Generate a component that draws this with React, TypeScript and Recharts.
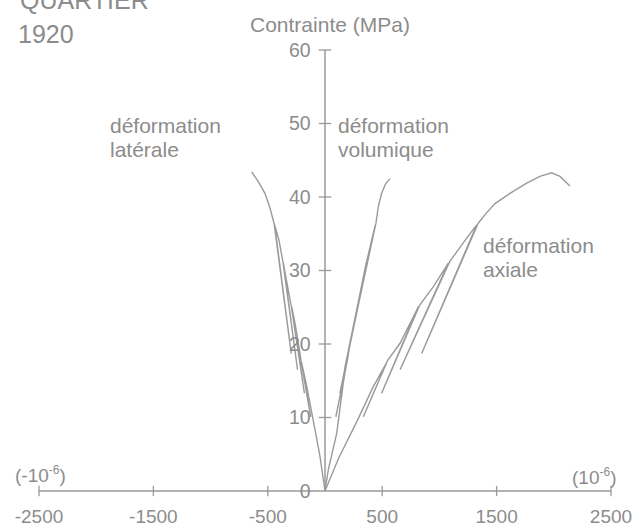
import React from 'react';
import { LineChart, Line, XAxis, YAxis, ReferenceLine } from 'recharts';

// strain in 1e-6, stress in MPa in drawing order (loops included)
const axialStrain = [0, 120, 277, 422, 540, 335, 545, 656, 801, 816, 495, 828, 947, 1078, 656, 1090, 1224, 1326, 845, 1338, 1399, 1486, 1617, 1763, 1879, 1981, 2054, 2141];
const axialStress = [0, 4.5, 9.4, 14.2, 17.5, 10.1, 17.7, 20.1, 24.6, 25.1, 13.3, 25.3, 27.8, 31.0, 16.5, 31.2, 34.1, 36.2, 18.7, 36.4, 37.6, 39.1, 40.5, 41.9, 42.8, 43.3, 42.8, 41.5];

const lateralStrain = [0, -44, -87, -131, -166, -205, -125, -210, -218, -262, -290, -180, -295, -321, -364, -240, -368, -402, -440, -295, -445, -481, -525, -583, -641];
const lateralStress = [0, 4.7, 8.3, 11.9, 14.7, 17.5, 10.1, 17.7, 18.7, 22.8, 25.0, 13.3, 25.2, 27.3, 31.0, 16.5, 31.2, 34.1, 36.2, 18.7, 36.4, 38.5, 40.5, 42.1, 43.4];

const volumeStrain = [0, 29, 102, 160, 190, 95, 195, 210, 277, 285, 130, 290, 335, 360, 170, 364, 415, 440, 200, 445, 466, 495, 530, 568];
const volumeStress = [0, 2.9, 7.8, 14.7, 17.5, 10.1, 17.7, 19.2, 24.4, 25.0, 13.3, 25.2, 28.5, 31.0, 16.5, 31.2, 34.6, 36.2, 18.7, 36.4, 38.7, 40.5, 41.8, 42.5];

const xTicks = [-2500, -1500, -500, 500, 1500, 2500];
const yTicks = [0, 10, 20, 30, 40, 50, 60];

const toPoints = (xs: number[], ys: number[]) => xs.map((x, i) => ({ x, y: ys[i] }));

const INK = '#8c8c8c';
const LINE = '#9a9a9a';
const FONT = '"Liberation Sans", Arial, sans-serif';

export default function App() {
    const axial = toPoints(axialStrain, axialStress);
    const lateral = toPoints(lateralStrain, lateralStress);
    const volume = toPoints(volumeStrain, volumeStress);

    return (
        <div style={{ position: 'absolute', left: 0, top: 0, width: 636, height: 530, background: '#fff', fontFamily: FONT }}>
            <LineChart width={636} height={530} margin={{ top: 50, right: 25, bottom: 9, left: 39 }}>
                <XAxis
                    type="number"
                    dataKey="x"
                    domain={[-2500, 2500]}
                    ticks={xTicks}
                    interval={0}
                    allowDataOverflow
                    height={30}
                    tickLine={false}
                    tickSize={0}
                    tickMargin={19}
                    axisLine={{ stroke: LINE, strokeWidth: 1.5 }}
                    tick={{ fill: INK, fontSize: 19, fontFamily: FONT }}
                />
                <YAxis type="number" dataKey="y" domain={[0, 60]} hide />

                {/* vertical stress axis sits at zero strain */}
                <ReferenceLine segment={[{ x: 0, y: 0 }, { x: 0, y: 60 }]} stroke={LINE} strokeWidth={1.5} ifOverflow="visible" />
                {yTicks.map((v) => (
                    <ReferenceLine
                        key={'y' + v}
                        segment={[{ x: -55, y: v }, { x: 55, y: v }]}
                        stroke={v === 0 ? 'none' : LINE}
                        strokeWidth={1.3}
                        ifOverflow="visible"
                        label={{ value: String(v), position: 'left', offset: 8, fill: INK, fontSize: 19.5, fontFamily: FONT }}
                    />
                ))}
                {xTicks.map((v) => (
                    <ReferenceLine
                        key={'x' + v}
                        segment={[{ x: v, y: -0.7 }, { x: v, y: 0.7 }]}
                        stroke={LINE}
                        strokeWidth={1.3}
                        ifOverflow="visible"
                    />
                ))}

                <Line data={lateral} dataKey="y" type="linear" dot={false} stroke={LINE} strokeWidth={1.4} isAnimationActive={false} />
                <Line data={volume} dataKey="y" type="linear" dot={false} stroke={LINE} strokeWidth={1.4} isAnimationActive={false} />
                <Line data={axial} dataKey="y" type="linear" dot={false} stroke={LINE} strokeWidth={1.4} isAnimationActive={false} />
            </LineChart>

            <svg width={636} height={530} style={{ position: 'absolute', left: 0, top: 0, pointerEvents: 'none' }}>
                <g fill={INK} fontFamily={FONT}>
                    <text x={20} y={9} fontSize={25}>QUARTIER</text>
                    <text x={18} y={43} fontSize={25}>1920</text>
                    <text x={250} y={32} fontSize={21}>Contrainte (MPa)</text>

                    <text x={110} y={133} fontSize={21}>déformation</text>
                    <text x={110} y={157} fontSize={21}>latérale</text>
                    <text x={338} y={133} fontSize={21}>déformation</text>
                    <text x={338} y={157} fontSize={21}>volumique</text>
                    <text x={483} y={253} fontSize={21}>déformation</text>
                    <text x={483} y={277} fontSize={21}>axiale</text>

                    <text x={15} y={482} fontSize={19}>
                        (-10<tspan dy={-8} fontSize={12}>-6</tspan><tspan dy={8}>)</tspan>
                    </text>
                    <text x={572} y={484} fontSize={19}>
                        (10<tspan dy={-8} fontSize={12}>-6</tspan><tspan dy={8}>)</tspan>
                    </text>
                </g>
            </svg>
        </div>
    );
}
